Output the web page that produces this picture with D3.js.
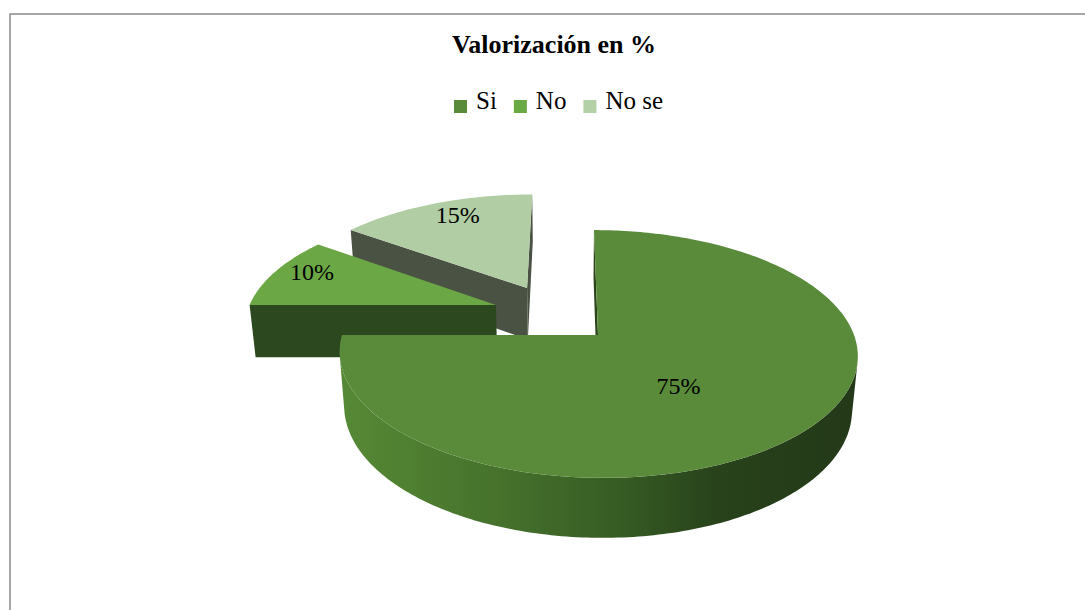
<!DOCTYPE html>
<html lang="es">
  <head>
    <meta charset="utf-8">
    <title>Valorización en %</title>
    <script src="https://d3js.org/d3.v7.min.js"></script>
    <style>
      body { margin: 0; background: #fff; }
      text { font-family: "Liberation Serif", "Times New Roman", serif; }
    </style>
  </head>

  <body>

    <script>

// Data

  var categories = ["Si", "No", "No se"];
  var values = [75, 10, 15];
  var labels = ["75%", "10%", "15%"];

// Colours and layout

  var topColor = ["#5a8b3a", "#6ba845", "#b0cda4"];
  var sideColor = ["#2a4519", "#2c481e", "#4a5244"];
  var legendColor = ["#5a8b3a", "#6aa944", "#b3d0a6"];
  var explode = [[0, 0], [-0.41, -0.258], [-0.287, -0.413]];   // world offsets of each slice
  var labelPos = [[144, 0.49], [291, 0.85], [336, 0.83]];      // angle (deg), radius

  var W = 1085, H = 610;

  var svg = d3.select("body")
    .append("svg")
      .attr("width", W)
      .attr("height", H);

  // border of the chart area
  svg.append("rect")
      .attr("x", 10)
      .attr("y", 14)
      .attr("width", W + 20)
      .attr("height", H + 20)
      .attr("fill", "none")
      .attr("stroke", "#8a8a8a")
      .attr("stroke-width", 1.5);

// 3D projection (radius = 1 in world units)

  var alpha = 28.2 * Math.PI / 180,
      cosA = Math.cos(alpha), sinA = Math.sin(alpha),
      camD = 5.75, focal = 1472, camU = -0.118, depth = 0.243;
  var cx = 598, cy = 335;
  var X0 = cx - focal * (0 - camU) / camD;

  function proj(u, v, w) {
    var dist = camD - (v * cosA + w * sinA);
    var up = -v * sinA + w * cosA;
    return [X0 + focal * (u - camU) / dist, cy - focal * up / dist];
  }

  function area(pts) {
    var s = 0;
    for (var i = 0; i < pts.length; i++) {
      var a = pts[i], b = pts[(i + 1) % pts.length];
      s += a[0] * b[1] - b[0] * a[1];
    }
    return s / 2;
  }

  var line = d3.line().curve(d3.curveLinearClosed);

  var pie = d3.pie().sort(null).value(d => d);
  var arcs = pie(values);

  var defs = svg.append("defs");
  var grad = defs.append("linearGradient")
      .attr("id", "sideSi")
      .attr("gradientUnits", "userSpaceOnUse")
      .attr("x1", 342).attr("y1", 0)
      .attr("x2", 860).attr("y2", 0);
  [[0, "#568935"], [0.3, "#46722c"], [0.55, "#355a23"], [0.72, "#28431b"], [1, "#233818"]]
    .forEach(s => grad.append("stop").attr("offset", s[0]).attr("stop-color", s[1]));

  var sideFill = ["url(#sideSi)", sideColor[1], sideColor[2]];

  function drawSlice(i) {
    var d = arcs[i], ou = explode[i][0], ov = explode[i][1];
    var g = svg.append("g");
    var P = (t, w) => proj(ou + Math.sin(t), ov - Math.cos(t), w);
    var Ct = proj(ou, ov, 0), Cb = proj(ou, ov, -depth);
    var n = Math.max(2, Math.ceil((d.endAngle - d.startAngle) / (Math.PI / 180)));
    var ts = d3.range(n + 1).map(k => d.startAngle + (d.endAngle - d.startAngle) * k / n);

    // cut faces
    var f0 = [Ct, Cb, P(d.startAngle, -depth), P(d.startAngle, 0)];
    var f1 = [Ct, P(d.endAngle, 0), P(d.endAngle, -depth), Cb];
    [f0, f1].forEach(f => {
      if (area(f) > 0)
        g.append("path").attr("d", line(f)).attr("fill", sideColor[i]);
    });

    // outer side, only the runs facing the viewer
    var run = [];
    function flush() {
      if (run.length > 1) {
        var pts = run.map(t => P(t, 0)).concat(run.slice().reverse().map(t => P(t, -depth)));
        g.append("path").attr("d", line(pts)).attr("fill", sideFill[i]);
      }
      run = [];
    }
    for (var k = 0; k < n; k++) {
      var q = [P(ts[k], 0), P(ts[k], -depth), P(ts[k + 1], -depth), P(ts[k + 1], 0)];
      if (area(q) > 0) {
        if (run.length === 0) run.push(ts[k]);
        run.push(ts[k + 1]);
      } else {
        flush();
      }
    }
    flush();

    // top face
    var top = [Ct].concat(ts.map(t => P(t, 0)));
    g.append("path").attr("d", line(top)).attr("fill", topColor[i]);
  }

  // back to front
  [2, 1, 0].forEach(drawSlice);

// Data labels

  labels.forEach((txt, i) => {
    var t = labelPos[i][0] * Math.PI / 180, r = labelPos[i][1];
    var p = proj(explode[i][0] + r * Math.sin(t), explode[i][1] - r * Math.cos(t), 0);
    svg.append("text")
        .attr("x", p[0])
        .attr("y", p[1])
        .attr("dy", "0.33em")
        .attr("text-anchor", "middle")
        .attr("font-size", 24)
        .attr("fill", "#000")
        .text(txt);
  });

// Title

  svg.append("text")
      .attr("x", 554)
      .attr("y", 53)
      .attr("text-anchor", "middle")
      .attr("font-size", 26)
      .attr("font-weight", "bold")
      .text("Valorización en %");

// Legend

  var lx = 454;
  categories.forEach((c, i) => {
    svg.append("rect")
        .attr("x", lx)
        .attr("y", 100)
        .attr("width", 13)
        .attr("height", 13)
        .attr("fill", legendColor[i]);
    var t = svg.append("text")
        .attr("x", lx + 22)
        .attr("y", 109)
        .attr("font-size", 25)
        .text(c);
    lx += 22 + t.node().getComputedTextLength() + 17;
  });

    </script>

  </body>

</html>
